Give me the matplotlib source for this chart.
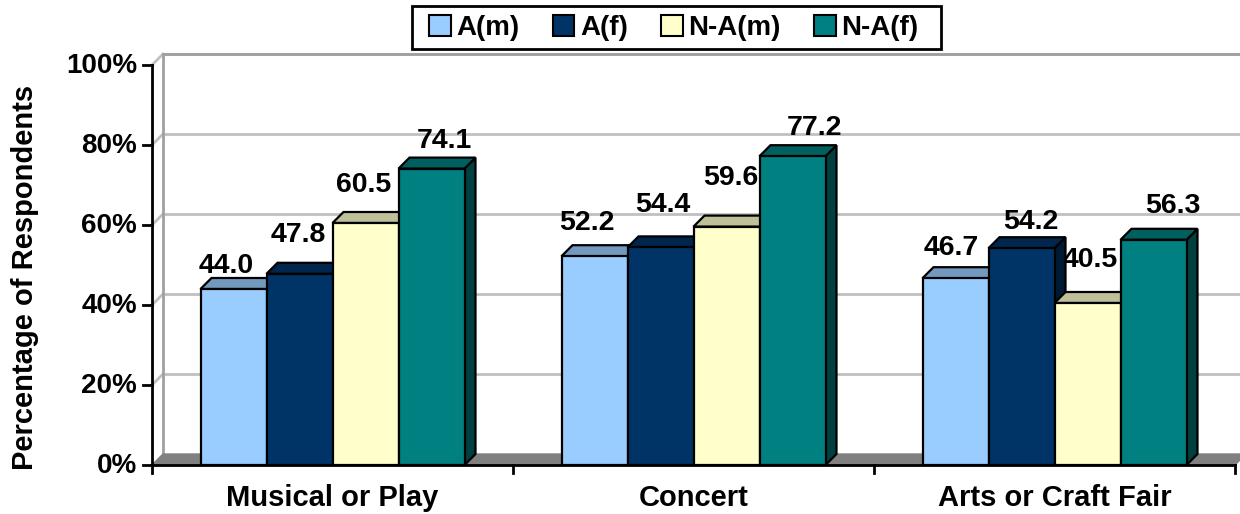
import matplotlib.pyplot as plt
from matplotlib.patches import Polygon, Patch, Rectangle
from matplotlib.colors import to_rgb

plt.rcParams['font.family'] = ['Liberation Sans', 'DejaVu Sans']
plt.rcParams['font.weight'] = 'bold'

categories = ["Musical or Play", "Concert", "Arts or Craft Fair"]
series = ["A(m)", "A(f)", "N-A(m)", "N-A(f)"]
a_m = [44.0, 52.2, 46.7]
a_f = [47.8, 54.4, 54.2]
na_m = [60.5, 59.6, 40.5]
na_f = [74.1, 77.2, 56.3]
colors = ["#99CCFF", "#003366", "#FFFFCC", "#008080"]
y_ticks = [0, 20, 40, 60, 80, 100]

# hand placed value labels: nudge in px (right, up from the bar's front top)
label_dx = [[-7, -1, -1.5, 13], [-8, 2, 4, 22], [-4, 9, 3, 19]]
label_gap = [[16, 32, 31, 21], [26, 35, 42, 21], [23, 19, 36, 27]]

W, H = 1240, 514
fig = plt.figure(figsize=(W / 100, H / 100), dpi=100)

# front plane of the plot: x 152..1235 px, y 465..65 px
left, right, bottom, top = 152, 1235, 465, 65
ax = fig.add_axes([left / W, (H - bottom) / H, (right - left) / W, (bottom - top) / H])
ax.set_xlim(0, 3)
ax.set_ylim(0, 100)
ax.axis("off")

# pixel -> data unit factors
PX = 3 / (right - left)
PY = 100 / (bottom - top)
# depth offset of the 3D look
DX = 11 * PX
DY = 11 * PY


def shade(c, f):
    r, g, b = to_rgb(c)
    return (r * f, g * f, b * f)


def poly(pts, fc, ec="black", lw=1.6, z=2):
    ax.add_patch(Polygon(pts, closed=True, facecolor=fc, edgecolor=ec,
                         linewidth=lw, joinstyle="miter", clip_on=False, zorder=z))


# back wall grid lines and side wall
grid = "#C0C0C0"
for t in y_ticks[1:]:
    ax.plot([DX, 3 + DX], [t + DY, t + DY], color=grid, lw=2, clip_on=False, zorder=1)
    ax.plot([0, DX], [t, t + DY], color=grid, lw=2, clip_on=False, zorder=1)
ax.plot([DX, DX], [DY, 100 + DY], color="#A0A0A0", lw=2, clip_on=False, zorder=1)
ax.plot([DX, 3 + DX], [100 + DY, 100 + DY], color="#A0A0A0", lw=2, clip_on=False, zorder=1)

# floor
poly([(0, 0), (3, 0), (3 + DX, DY), (DX, DY)], "#808080", ec="#808080", lw=1, z=1.5)

# axes lines and ticks
ax.plot([0, 0], [0, 100], color="black", lw=2, clip_on=False, zorder=5)
ax.plot([0, 3], [0, 0], color="black", lw=2, clip_on=False, zorder=5)
for t in y_ticks:
    ax.plot([-9 * PX, 0], [t, t], color="black", lw=2, clip_on=False, zorder=5)
    ax.text(-15 * PX, t - 2, f"{t}%", ha="right", va="baseline", fontsize=20, fontweight="bold")
for i in range(4):
    ax.plot([i, i], [0, -8 * PY], color="black", lw=2, clip_on=False, zorder=5)
for i, c in enumerate(categories):
    ax.text(i + 0.5, -41 * PY, c, ha="center", va="baseline", fontsize=21, fontweight="bold")

# bars, drawn left to right so later bars cover earlier side faces
bw = 66 / 361
data = [a_m, a_f, na_m, na_f]
for ci in range(len(categories)):
    x0 = ci + 0.5 - 2 * bw
    for si, vals in enumerate(data):
        v = vals[ci]
        xl = x0 + si * bw
        xr = xl + bw
        c = colors[si]
        poly([(xr, 0), (xr + DX, DY), (xr + DX, v + DY), (xr, v)], shade(c, 0.5))
        poly([(xl, v), (xr, v), (xr + DX, v + DY), (xl + DX, v + DY)], shade(c, 0.75))
        poly([(xl, 0), (xr, 0), (xr, v), (xl, v)], c)
        ax.text((xl + xr) / 2 + label_dx[ci][si] * PX, v + label_gap[ci][si] * PY,
                f"{v:.1f}", ha="center", va="baseline",
                fontsize=20.5, fontweight="bold", zorder=1.8)

ax.text(-127 * PX, 47, "Percentage of Respondents", rotation=90, ha="center", va="center",
        fontsize=21, fontweight="bold")

# legend with a hand drawn frame
handles = [Patch(facecolor=c, edgecolor="black", linewidth=1.5, label=s)
           for c, s in zip(colors, series)]
fig.legend(handles=handles, loc="center left", bbox_to_anchor=(429 / W, 1 - 28 / H),
           ncol=4, frameon=False, prop={"weight": "bold", "size": 20},
           handlelength=0.78, handleheight=0.78, handletextpad=0.2,
           columnspacing=1.2, borderpad=0, borderaxespad=0)
fig.patches.append(Rectangle((412 / W, 1 - 49 / H), (941 - 412) / W, 43 / H,
                             transform=fig.transFigure, facecolor="none",
                             edgecolor="black", linewidth=2))

fig.savefig("out.png", dpi=100)
